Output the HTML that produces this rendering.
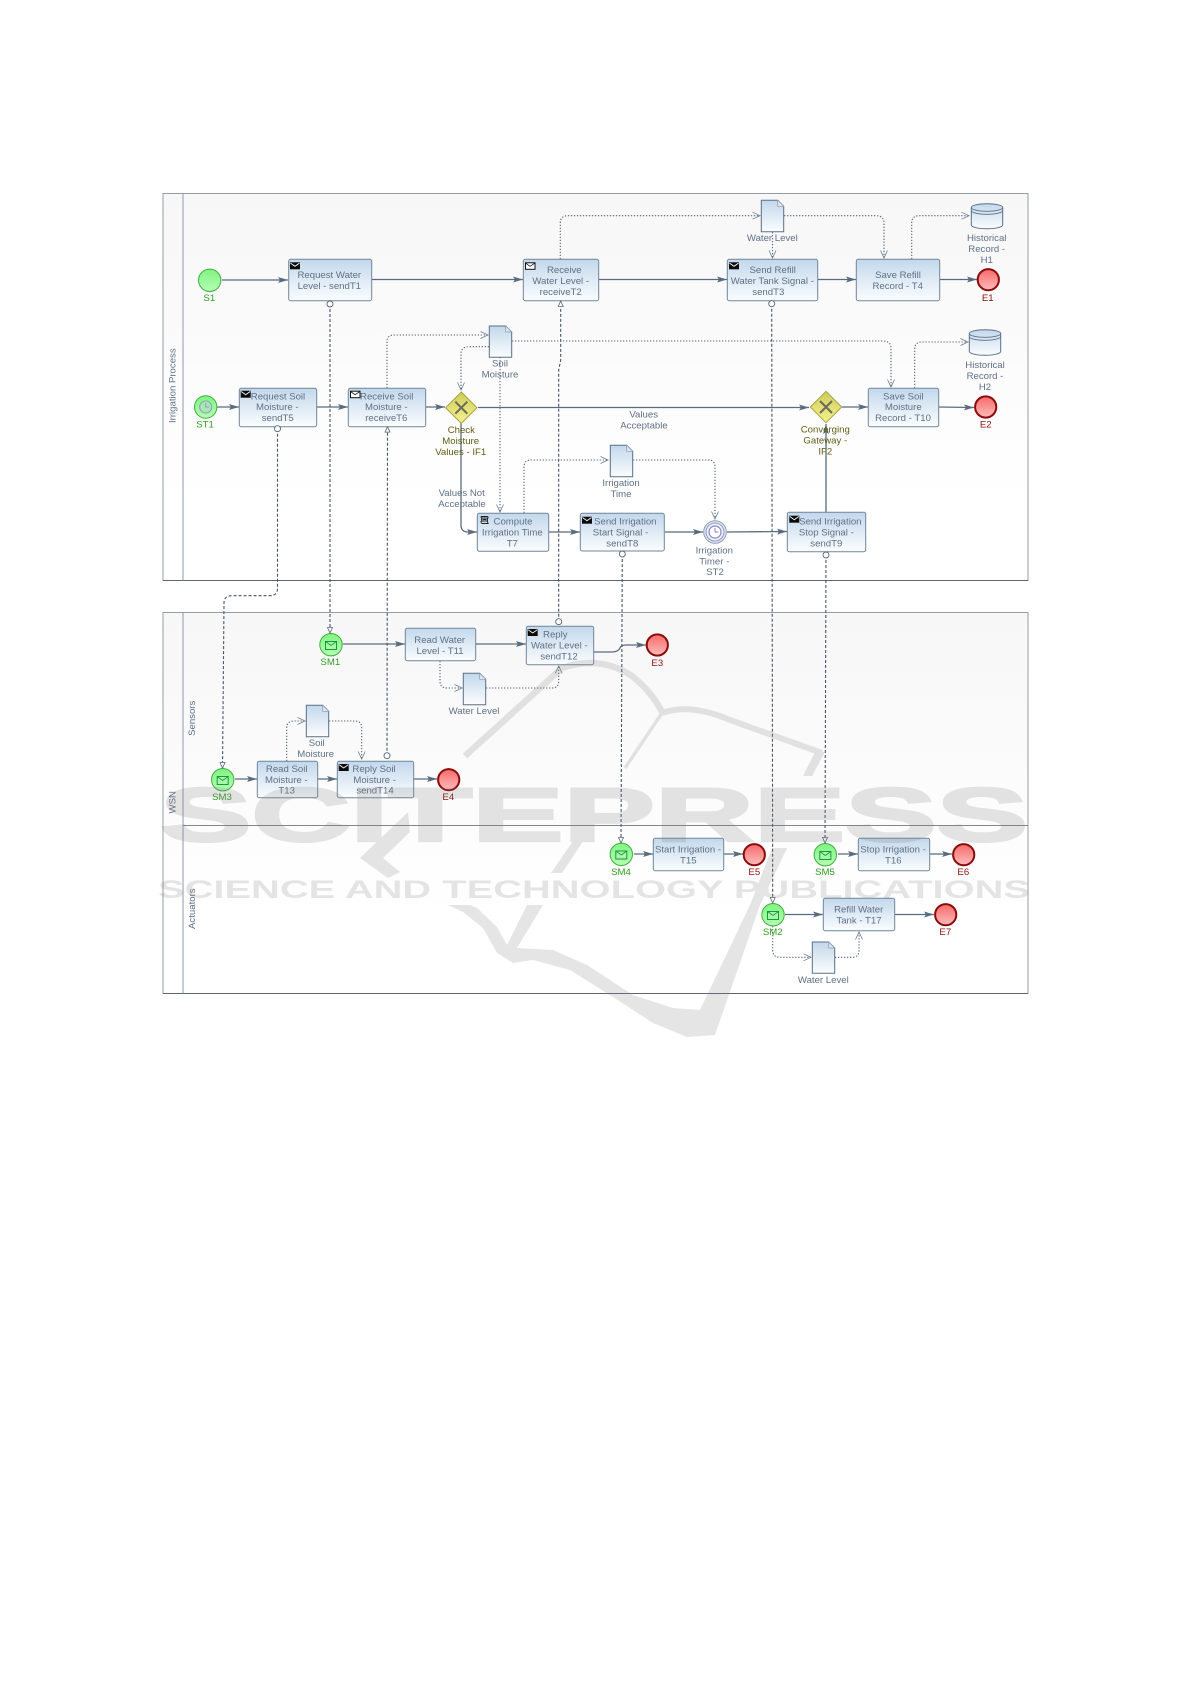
<!DOCTYPE html>
<html><head><meta charset="utf-8"><style>
html,body{margin:0;padding:0;background:#fff;width:1191px;height:1684px;overflow:hidden}
svg{display:block;filter:blur(.3px)}
text{font-family:"Liberation Sans",sans-serif;font-size:9.6px;fill:#5f7085;text-anchor:middle;dominant-baseline:central}
.g{fill:#2f9e1e}.r{fill:#8c1010}.o{fill:#5f5c14}
.t{fill:url(#tg);stroke:#71869a;stroke-width:1}
.d{fill:url(#tg);stroke:#5a7086;stroke-width:1}
.s{fill:none;stroke:#586c7f;stroke-width:1.3;marker-end:url(#ar)}
.m{fill:none;stroke:#44566a;stroke-width:1.1;stroke-dasharray:3 2;marker-start:url(#ci);marker-end:url(#tr)}
.a{fill:none;stroke:#52657a;stroke-width:1.1;stroke-dasharray:1.3 1.7;marker-end:url(#op)}
.eg{fill:url(#gg);stroke:#3fae3f;stroke-width:1}
.er{fill:url(#rg);stroke:#8b0a0a;stroke-width:2}
</style></head><body>
<svg width="1191" height="1684" viewBox="0 0 1191 1684" xmlns="http://www.w3.org/2000/svg">
<defs>
<linearGradient id="tg" x1="0" y1="0" x2="0" y2="1"><stop offset="0" stop-color="#c3d8ec"/><stop offset="1" stop-color="#fbfdfe"/></linearGradient>
<linearGradient id="pg" x1="0" y1="0" x2="0" y2="1"><stop offset="0" stop-color="#f7f7f7"/><stop offset=".8" stop-color="#ffffff"/></linearGradient>
<linearGradient id="gg" x1="0" y1="0" x2="0" y2="1"><stop offset="0" stop-color="#7ff47f"/><stop offset="1" stop-color="#b6fdb6"/></linearGradient>
<linearGradient id="rg" x1="0" y1="0" x2="0" y2="1"><stop offset="0" stop-color="#f66a6a"/><stop offset="1" stop-color="#ffbcbc"/></linearGradient>
<linearGradient id="yg" x1="0" y1="0" x2="0" y2="1"><stop offset="0" stop-color="#cfcc5c"/><stop offset="1" stop-color="#f4f28e"/></linearGradient>
<marker id="ar" markerUnits="userSpaceOnUse" markerWidth="11" markerHeight="7" refX="10" refY="3" orient="auto"><path d="M0,0 L10,3 L0,6 L2,3Z" fill="#586c7f"/></marker>
<marker id="ci" markerUnits="userSpaceOnUse" markerWidth="8" markerHeight="8" refX="4" refY="4" orient="auto"><circle cx="4" cy="4" r="3" fill="#fff" stroke="#556677" stroke-width=".9"/></marker>
<marker id="tr" markerUnits="userSpaceOnUse" markerWidth="7" markerHeight="7" refX="6" refY="3" orient="auto"><path d="M.5,.5 L6,3 L.5,5.5Z" fill="#fff" stroke="#556677" stroke-width=".8"/></marker>
<marker id="op" markerUnits="userSpaceOnUse" markerWidth="9" markerHeight="9" refX="8" refY="4" orient="auto"><path d="M.5,.5 L8,4 L.5,7.5" fill="none" stroke="#6b7c8c" stroke-width=".8"/></marker>
<g id="be"><rect width="10" height="7" fill="#0b0b0b"/><path d="M.5,.8 L5,4 L9.5,.8" fill="none" stroke="#fff" stroke-width=".9"/></g>
<g id="we"><rect x=".5" y=".5" width="9.5" height="6.5" fill="#fff" stroke="#111" stroke-width="1"/><path d="M.5,.8 L5,4 L10,.8" fill="none" stroke="#111" stroke-width=".8"/></g>
<g id="me"><rect x="-5.5" y="-4" width="11" height="8" fill="#a8f8a8" stroke="#159a3c" stroke-width="1"/><path d="M-5.5,-4 L0,0 L5.5,-4" fill="none" stroke="#159a3c" stroke-width=".9"/></g>
</defs>

<!-- pools -->
<rect x="163" y="193.5" width="865" height="387" fill="url(#pg)" stroke="#929eaa" stroke-width="1"/>
<line x1="163" y1="580.5" x2="1028" y2="580.5" stroke="#5a6775" stroke-width="1.1"/>
<line x1="183" y1="193.5" x2="183" y2="580.5" stroke="#8e9aa8" stroke-width="1"/>
<rect x="163" y="612.5" width="865" height="381" fill="url(#pg)" stroke="#929eaa" stroke-width="1"/>
<line x1="163" y1="993.5" x2="1028" y2="993.5" stroke="#5a6775" stroke-width="1.1"/>
<line x1="183" y1="612.5" x2="183" y2="993.5" stroke="#8e9aa8" stroke-width="1"/>
<line x1="183" y1="825.5" x2="1028" y2="825.5" stroke="#7d8894" stroke-width="1"/>
<text transform="translate(173.2,385.7) rotate(-90)">Irrigation Process</text>
<text transform="translate(173.2,802.3) rotate(-90)">WSN</text>
<text transform="translate(192.5,718.3) rotate(-90)">Sensors</text>
<text transform="translate(192.5,908.7) rotate(-90)">Actuators</text>

<!-- sequence flows -->
<path class="s" d="M222,280 H288"/>
<path class="s" d="M372,279.5 H523"/>
<path class="s" d="M599,279.5 H727"/>
<path class="s" d="M818,279.5 H856"/>
<path class="s" d="M940,279.5 H977"/>
<path class="s" d="M217,407 H239"/>
<path class="s" d="M317,407 H348"/>
<path class="s" d="M426,407 H445"/>
<path class="s" d="M478,407.5 H809"/>
<path class="s" d="M461,423 V525 Q461,532 468,532 H477"/>
<path class="s" d="M549,532 H580"/>
<path class="s" d="M665,532 H703"/>
<path class="s" d="M727,532 L787,531.5"/>
<path class="s" d="M826,512 V424"/>
<path class="s" d="M842,407 H868"/>
<path class="s" d="M939,407 L974,407.5"/>
<path class="s" d="M343,644 H405"/>
<path class="s" d="M476,644 H526"/>
<path class="s" d="M594,652 H612 Q618,652 620,648 Q621,645 626,645 H646"/>
<path class="s" d="M235,779 H257"/>
<path class="s" d="M318,779 H337"/>
<path class="s" d="M414,779 H437"/>
<path class="s" d="M634,854 H653"/>
<path class="s" d="M724,854 H743"/>
<path class="s" d="M838,854 H858"/>
<path class="s" d="M930,854 H952"/>
<path class="s" d="M785,914.5 H823"/>
<path class="s" d="M895,914.5 H934"/>

<!-- associations -->
<path class="a" d="M560.3,259 V223 Q560.3,215.7 568,215.7 H760"/>
<path class="a" d="M784,215.7 H876 Q884,215.7 884,223 V258"/>
<path class="a" d="M772.5,232 V258"/>
<path class="a" d="M911.7,259 V223 Q911.7,215.7 919,215.7 H969"/>
<path class="a" d="M914.7,388 V349 Q914.7,342 922,342 H968"/>
<path class="a" d="M387,388 V342 Q387,335 394,335 H488"/>
<path class="a" d="M489,346.7 H469 Q461,346.7 461,354 V390"/>
<path class="a" d="M512,341 H883 Q891,341 891,348 V387"/>
<path class="a" d="M500,357 V512"/>
<path class="a" d="M524,513 V467 Q524,460 531,460 H608"/>
<path class="a" d="M633,460 H708 Q715,460 715,467 V519"/>
<path class="a" d="M440,661 V681 Q440,688 447,688 H462"/>
<path class="a" d="M486,688 H552 Q558.7,688 558.7,681 V666"/>
<path class="a" d="M286.7,761 V728 Q286.7,721 294,721 H305"/>
<path class="a" d="M329,721 H355 Q361.7,721 361.7,728 V759"/>
<path class="a" d="M772.7,926 V950 Q772.7,957.3 780,957.3 H811"/>
<path class="a" d="M835,957.3 H852 Q859,957.3 859,950 V932"/>

<!-- tasks -->
<rect class="t" x="288.7" y="259.3" width="83" height="41.4" rx="2"/>
<rect class="t" x="523.3" y="259.3" width="75.4" height="41.4" rx="2"/>
<rect class="t" x="727.3" y="259.3" width="90.4" height="41.4" rx="2"/>
<rect class="t" x="856.3" y="259.3" width="83.4" height="41.4" rx="2"/>
<rect class="t" x="239.3" y="388.3" width="77.4" height="38.4" rx="2"/>
<rect class="t" x="348.3" y="388.3" width="77.4" height="38.4" rx="2"/>
<rect class="t" x="477.3" y="513.3" width="71.4" height="38" rx="2"/>
<rect class="t" x="580.3" y="513.3" width="84" height="37.7" rx="2"/>
<rect class="t" x="787.3" y="512.3" width="78.4" height="39.4" rx="2"/>
<rect class="t" x="868.3" y="388.3" width="70.4" height="38.4" rx="2"/>
<rect class="t" x="405.3" y="628.3" width="70.4" height="32.4" rx="2"/>
<rect class="t" x="526.3" y="626.3" width="67.4" height="38.4" rx="2"/>
<rect class="t" x="257.3" y="761.3" width="60.4" height="36.4" rx="2"/>
<rect class="t" x="337.3" y="761.3" width="76.4" height="36.4" rx="2"/>
<rect class="t" x="653.3" y="838.3" width="70.4" height="32.4" rx="2"/>
<rect class="t" x="858.3" y="838.3" width="71.4" height="32.4" rx="2"/>
<rect class="t" x="823.3" y="898.3" width="71.4" height="32.4" rx="2"/>

<use href="#be" x="290" y="262.3"/><use href="#we" x="525" y="262.3"/><use href="#be" x="729" y="262.3"/>
<use href="#be" x="240.7" y="390.7"/><use href="#we" x="350" y="390.7"/><use href="#be" x="582" y="516.7"/>
<use href="#be" x="789.3" y="515.7"/><use href="#be" x="527.7" y="629"/><use href="#be" x="338.7" y="764"/>
<path d="M481,516.5 h6 q1.5,0 1,1.5 h-6 q-1,0 -1,-1.5 M481.5,518 v3 M487.5,518 v3 h-6 M481,521 q0,2 1,2.5 h6.5 q-1,-.5 -1,-2.5 M482.5,519.5 h4" fill="none" stroke="#222" stroke-width=".9"/>

<!-- data objects -->
<path class="d" d="M489.3,326 h16.4 l6,6 v25.3 h-22.4z"/><path d="M505.7,326 v6 h6z" fill="#dfe6ee" stroke="#8a9aaa" stroke-width=".7"/>
<path class="d" d="M761.3,200.3 h16.4 l6,6 v25.4 h-22.4z"/><path d="M777.7,200.3 v6 h6z" fill="#dfe6ee" stroke="#8a9aaa" stroke-width=".7"/>
<path class="d" d="M610.3,445.3 h16.4 l6,6 v25.4 h-22.4z"/><path d="M626.7,445.3 v6 h6z" fill="#dfe6ee" stroke="#8a9aaa" stroke-width=".7"/>
<path class="d" d="M463.3,673.3 h16.4 l6,6 v25.4 h-22.4z"/><path d="M479.7,673.3 v6 h6z" fill="#dfe6ee" stroke="#8a9aaa" stroke-width=".7"/>
<path class="d" d="M306.3,705.3 h16.4 l6,6 v25.4 h-22.4z"/><path d="M322.7,705.3 v6 h6z" fill="#dfe6ee" stroke="#8a9aaa" stroke-width=".7"/>
<path class="d" d="M812.3,942 h16.4 l6,6 v25.3 h-22.4z"/><path d="M828.7,942 v6 h6z" fill="#dfe6ee" stroke="#8a9aaa" stroke-width=".7"/>
<path class="d" d="M971.3,207.5 a15.7,3.8 0 0 1 31.4,0 v17.5 a15.7,3.8 0 0 1 -31.4,0z"/>
<path d="M971.3,207.5 a15.7,3.8 0 0 0 31.4,0 M971.3,210.5 a15.7,3.8 0 0 0 31.4,0" fill="none" stroke="#5a7086" stroke-width=".8"/>
<path class="d" d="M969.3,333.5 a15.7,3.8 0 0 1 31.4,0 v18 a15.7,3.8 0 0 1 -31.4,0z"/>
<path d="M969.3,333.5 a15.7,3.8 0 0 0 31.4,0 M969.3,336.5 a15.7,3.8 0 0 0 31.4,0" fill="none" stroke="#5a7086" stroke-width=".8"/>

<!-- gateways -->
<path d="M461.3,392 L477,407.7 L461.3,423.4 L445.6,407.7Z" fill="url(#yg)" stroke="#a5a340" stroke-width="1"/>
<path d="M455.3,401.7 L467.3,413.7 M467.3,401.7 L455.3,413.7" stroke="#6a6a58" stroke-width="2"/>
<path d="M826,391.3 L841.7,407 L826,422.7 L810.3,407Z" fill="url(#yg)" stroke="#a5a340" stroke-width="1"/>
<path d="M820,401 L832,413 M832,401 L820,413" stroke="#6a6a58" stroke-width="2"/>

<!-- events -->
<circle class="eg" cx="209.7" cy="280.3" r="11.2"/>
<circle class="eg" cx="205.7" cy="407" r="11.2"/>
<circle cx="205.7" cy="407" r="6" fill="#a8e8b0" stroke="#8f9fc0" stroke-width="1.1"/>
<path d="M205.7,403 V407 H209" fill="none" stroke="#8f9fc0" stroke-width="1"/>
<circle cx="715" cy="532" r="11.3" fill="#e4eaf6" stroke="#8f9ab8" stroke-width="1"/>
<circle cx="715" cy="532" r="9" fill="#eef1fa" stroke="#8f9ab8" stroke-width="1"/>
<circle cx="715" cy="532" r="6" fill="#fff" stroke="#8a85c8" stroke-width="1.2"/>
<path d="M715,528 V532 H718.5" fill="none" stroke="#8a85c8" stroke-width="1"/>
<circle class="er" cx="988.3" cy="279.7" r="10.6"/>
<circle class="er" cx="985.7" cy="407" r="10.6"/>
<circle class="er" cx="657.3" cy="645" r="10.6"/>
<circle class="er" cx="448.7" cy="779.7" r="10.6"/>
<circle class="er" cx="754.3" cy="854.7" r="10.6"/>
<circle class="er" cx="963.7" cy="854.7" r="10.6"/>
<circle class="er" cx="945.7" cy="914.7" r="10.6"/>
<circle class="eg" cx="331" cy="644.7" r="11.2"/><use href="#me" x="331" y="645.5"/>
<circle class="eg" cx="222.7" cy="779.7" r="11.2"/><use href="#me" x="222.7" y="780.5"/>
<circle class="eg" cx="621.3" cy="854.3" r="11.2"/><use href="#me" x="621.3" y="855"/>
<circle class="eg" cx="825.3" cy="854.7" r="11.2"/><use href="#me" x="825.3" y="855.5"/>
<circle class="eg" cx="773" cy="914.7" r="11.2"/><use href="#me" x="773" y="915.5"/>

<!-- message flows -->
<path class="m" d="M330,304 V633"/>
<path class="m" d="M277.5,428.7 V588 Q277.5,595.7 270,595.7 H232 Q224,595.7 224,603 L222.5,768"/>
<path class="m" d="M387,755.7 L387.5,426.7"/>
<path class="m" d="M558.7,621.7 V370 L560.7,360 V301"/>
<path class="m" d="M771.7,303.7 L772.7,903"/>
<path class="m" d="M622.3,554 L621,843"/>
<path class="m" d="M826,555 L825,843"/>

<!-- task labels -->
<g transform="translate(0,1)">
<text x="329.3" y="274.7">Request Water</text><text x="329.3" y="285.7">Level - sendT1</text>
<text x="564.3" y="269.3">Receive</text><text x="560.7" y="280.3">Water Level -</text><text x="560.7" y="291.3">receiveT2</text>
<text x="772.7" y="269.3">Send Refill</text><text x="772.3" y="280.3">Water Tank Signal -</text><text x="768.3" y="291.3">sendT3</text>
<text x="898" y="274.7">Save Refill</text><text x="897.7" y="285.7">Record - T4</text>
<text x="278" y="396">Request Soil</text><text x="277.3" y="406.7">Moisture -</text><text x="277.7" y="417.7">sendT5</text>
<text x="386.7" y="396">Receive Soil</text><text x="386.3" y="406.7">Moisture -</text><text x="386.3" y="417.7">receiveT6</text>
<text x="513" y="521">Compute</text><text x="512.3" y="532">Irrigation Time</text><text x="512.3" y="543">T7</text>
<text x="625.3" y="521">Send Irrigation</text><text x="620.5" y="532">Start Signal -</text><text x="622.3" y="543">sendT8</text>
<text x="830.3" y="521">Send Irrigation</text><text x="826.3" y="532">Stop Signal -</text><text x="826.3" y="543">sendT9</text>
<text x="903.3" y="396">Save Soil</text><text x="903.3" y="406.7">Moisture</text><text x="903" y="417.7">Record - T10</text>
<text x="439.7" y="639.3">Read Water</text><text x="440" y="650.3">Level - T11</text>
<text x="555.3" y="634">Reply</text><text x="559.3" y="645">Water Level -</text><text x="559" y="656">sendT12</text>
<text x="286.7" y="768.3">Read Soil</text><text x="286.3" y="779.3">Moisture -</text><text x="286.7" y="790">T13</text>
<text x="374" y="768.3">Reply Soil</text><text x="374.7" y="779.3">Moisture -</text><text x="375" y="790">sendT14</text>
<text x="688" y="849">Start Irrigation -</text><text x="688.3" y="860">T15</text>
<text x="893" y="849">Stop Irrigation -</text><text x="893.3" y="860">T16</text>
<text x="858.7" y="909">Refill Water</text><text x="859" y="920">Tank - T17</text>

<!-- gateway labels -->
<text class="o" x="461.3" y="429.7">Check</text><text class="o" x="460.7" y="440.7">Moisture</text><text class="o" x="460.7" y="451.7">Values - IF1</text>
<text class="o" x="825.3" y="429">Converging</text><text class="o" x="825.3" y="440">Gateway -</text><text class="o" x="825.3" y="451">IF2</text>

<!-- data labels -->
<text x="500" y="363">Soil</text><text x="500" y="374">Moisture</text>
<text x="772.3" y="237.3">Water Level</text>
<text x="986.7" y="237.7">Historical</text><text x="986.7" y="248.7">Record -</text><text x="986.7" y="259.7">H1</text>
<text x="985" y="364.3">Historical</text><text x="985" y="375.3">Record -</text><text x="985" y="386.3">H2</text>
<text x="621" y="482.7">Irrigation</text><text x="621" y="493.3">Time</text>
<text x="714.3" y="550">Irrigation</text><text x="714.3" y="561">Timer -</text><text x="715" y="571.7">ST2</text>
<text x="643.7" y="414">Values</text><text x="644" y="425">Acceptable</text>
<text x="461.7" y="492.7">Values Not</text><text x="462" y="503.7">Acceptable</text>
<text x="474" y="710.3">Water Level</text>
<text x="316.7" y="742.7">Soil</text><text x="315.7" y="753.7">Moisture</text>
<text x="823.3" y="979.7">Water Level</text>

<!-- event labels -->
<text class="g" x="209.3" y="297.7">S1</text><text class="g" x="205" y="424">ST1</text>
<text class="r" x="987.7" y="297.3">E1</text><text class="r" x="985.7" y="424">E2</text>
<text class="g" x="330.3" y="661.7">SM1</text><text class="g" x="222" y="796.7">SM3</text>
<text class="r" x="657.3" y="662.3">E3</text><text class="r" x="448.3" y="796.7">E4</text>
<text class="g" x="621" y="871.7">SM4</text><text class="r" x="754.3" y="871.7">E5</text>
<text class="g" x="825" y="871.7">SM5</text><text class="r" x="963.3" y="871.7">E6</text>
<text class="g" x="772.7" y="931.7">SM2</text><text class="r" x="945.3" y="931.7">E7</text>
</g>

<!-- watermark -->
<g opacity=".2">
<g fill="none" stroke="#7f7f7f" stroke-linecap="butt">
<path d="M465,756 L562,668 Q600,655 632,676 Q652,692 662,712" stroke-width="6.5"/>
<path d="M662,713 Q690,703 730,720 L822,753" stroke-width="6"/>
<path d="M662,713 L625,768" stroke-width="3.5"/>
</g>
<g fill="#7f7f7f">
<path d="M825,752 L812,776 L803,776 L815,752Z"/>
<path d="M582,828 L592,828 L562,873 L551,873Z"/>
<path d="M408,812 L360,858 L388,878 L400,872 L383,858 L410,832Z"/>
<path d="M448,905 L463,912 L483,928 L497,953 L513,963 L533,960 L570,970 L613,997 L653,1023 L687,1037 L715,1035 L760,905 L787,848 L772,848 L750,905 L700,1010 L673,1008 L633,995 L587,965 L553,950 L517,948 L543,905 L527,905 L507,945 L497,927 L477,908 L470,905Z"/>
</g>
<text x="594" y="841" textLength="868" lengthAdjust="spacingAndGlyphs" style="font-size:76px;font-weight:bold;fill:#7f7f7f;stroke:#7f7f7f;stroke-width:2.5;dominant-baseline:auto">SCITEPRESS</text>
<text x="594" y="898" textLength="872" lengthAdjust="spacingAndGlyphs" style="font-size:25px;font-weight:bold;fill:#7f7f7f;dominant-baseline:auto">SCIENCE AND TECHNOLOGY PUBLICATIONS</text>
</g>
</svg>
</body></html>
